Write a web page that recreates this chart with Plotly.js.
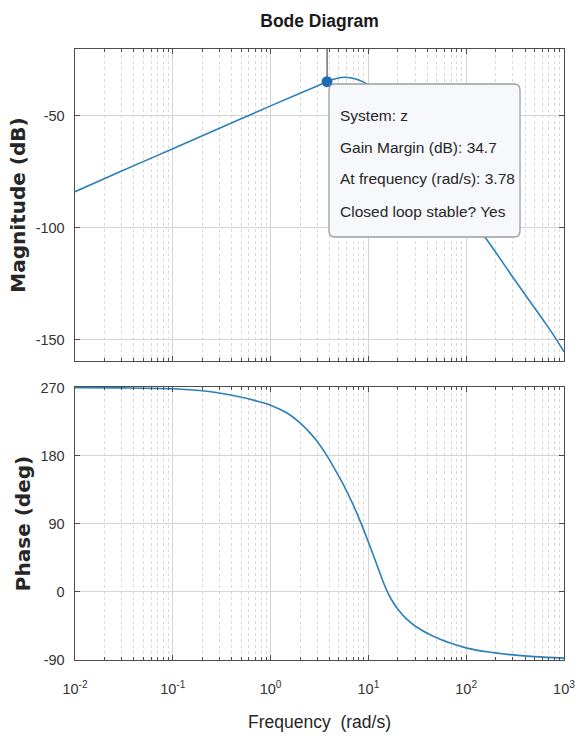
<!DOCTYPE html>
<html>
<head>
<meta charset="utf-8">
<script src="https://cdn.plot.ly/plotly-3.0.1.min.js"></script>
<style>html,body{margin:0;padding:0;background:#fff}#chart{width:588px;height:744px}</style>
</head>
<body>
<div id="chart"></div>
<script>
// ---- data ----
const freqMag = [0.01, 0.03, 0.1, 0.3, 1, 2, 3, 3.78, 4.5, 5.6, 6.5, 8, 9.4, 12, 15, 20, 30, 50, 100, 171, 300, 610, 800, 1000];
const magDb   = [-83.8, -74.6, -64.6, -55.5, -45.5, -39.9, -36.6, -34.7, -33.5, -32.7, -32.9, -33.9, -35.5, -40, -46, -53, -63, -76, -93, -106.6, -122, -141, -148.5, -155.3];

const freqPhase = [0.01, 0.03, 0.1, 0.2, 0.4, 0.7, 1, 1.5, 2, 2.5, 3, 3.78, 4.5, 5.5, 7, 8.4, 10, 12.2, 14.5, 17, 20.3, 24.2, 30, 45, 70, 104, 170, 264, 500, 1000];
const phaseDeg  = [270, 269.8, 268.6, 266, 260, 253, 247, 236, 223.5, 211, 199, 180, 163, 143, 115, 91, 66, 36, 10, -9, -24, -35, -45, -58, -68, -74.6, -79.5, -82.5, -85.5, -87.5];

const freqTicks = [0.01, 0.1, 1, 10, 100, 1000];
const freqTickText = ['10<sup>-2</sup>', '10<sup>-1</sup>', '10<sup>0</sup>', '10<sup>1</sup>', '10<sup>2</sup>', '10<sup>3</sup>'];
const magTicks = [-150, -100, -50];
const magTickText = ['-150', '-100', '-50'];
const phaseTicks = [-90, 0, 90, 180, 270];
const phaseTickText = ['-90', '0', '90', '180', '270'];

const systemName = 'z';
const gmFreq = 3.78;   // rad/s
const gmDb = 34.7;     // dB
const stableText = 'Yes';

// ---- styling ----
const sans = "'Liberation Sans', Arial, sans-serif";
const wideBold = "'DejaVu Sans', 'Liberation Sans', sans-serif";
const lineBlue = '#2b80b9';
const axisCol = '#4d4d4d';

const L = 75, R = 24, T = 49, B = 84, W = 588, H = 744;
const pw = W - L - R, ph = H - T - B;
const X = px => (px - L) / pw;
const Y = py => (H - B - py) / ph;

function roundRect(x0, y0, x1, y1, r) {
  return `M ${X(x0 + r)} ${Y(y0)} L ${X(x1 - r)} ${Y(y0)} Q ${X(x1)} ${Y(y0)} ${X(x1)} ${Y(y0 + r)} ` +
         `L ${X(x1)} ${Y(y1 - r)} Q ${X(x1)} ${Y(y1)} ${X(x1 - r)} ${Y(y1)} ` +
         `L ${X(x0 + r)} ${Y(y1)} Q ${X(x0)} ${Y(y1)} ${X(x0)} ${Y(y1 - r)} ` +
         `L ${X(x0)} ${Y(y0 + r)} Q ${X(x0)} ${Y(y0)} ${X(x0 + r)} ${Y(y0)} Z`;
}

const baseX = {
  type: 'log', range: [-2, 3],
  tickmode: 'array', tickvals: freqTicks, ticktext: freqTickText,
  ticks: 'inside', ticklen: 5, tickwidth: 1, tickcolor: axisCol,
  showline: true, linecolor: axisCol, linewidth: 1.4, mirror: 'ticks',
  showgrid: true, gridcolor: '#d4d4d4', gridwidth: 1, zeroline: false,
  minor: { dtick: 'D1', ticks: 'inside', ticklen: 3, tickcolor: axisCol,
           showgrid: true, gridcolor: '#d9d9d9', griddash: 'dot', gridwidth: 1 },
  tickfont: { family: sans, size: 14.5, color: '#333333' }
};

const layout = {
  width: W, height: H,
  margin: { l: L, r: R, t: T, b: B },
  paper_bgcolor: '#ffffff', plot_bgcolor: '#ffffff',
  showlegend: false,
  title: { text: 'Bode Diagram', x: 0.5435, xanchor: 'center', xref: 'container',
           y: 1 - 21 / H, yanchor: 'middle', yref: 'container',
           font: { family: sans, size: 17.5, weight: 'bold', color: '#1a1a1a' } },
  xaxis: Object.assign({}, baseX, {
    domain: [0, 1], anchor: 'y', ticklabelstandoff: 15,
    title: { text: 'Frequency\u00a0\u00a0(rad/s)', standoff: 20,
             font: { family: sans, size: 17.5, color: '#262626' } }
  }),
  xaxis2: Object.assign({}, baseX, {
    domain: [0, 1], anchor: 'y2', matches: 'x', showticklabels: false
  }),
  yaxis: {
    domain: [0, 273 / ph], range: [-90, 271],
    tickmode: 'array', tickvals: phaseTicks, ticktext: phaseTickText,
    ticks: 'inside', ticklen: 5, tickcolor: axisCol,
    showline: true, linecolor: axisCol, linewidth: 1.4, mirror: 'ticks',
    showgrid: true, gridcolor: '#d4d4d4', zeroline: false,
    tickfont: { family: sans, size: 14.5, color: '#333333' }, ticklabelstandoff: 6,
    title: { text: 'Phase (deg)', standoff: 4,
             font: { family: wideBold, size: 20, weight: 'bold', color: '#262626' } }
  },
  yaxis2: {
    domain: [(H - B - 361) / ph, 1], range: [-159.4, -20.1],
    tickmode: 'array', tickvals: magTicks, ticktext: magTickText,
    ticks: 'inside', ticklen: 5, tickcolor: axisCol,
    showline: true, linecolor: axisCol, linewidth: 1.4, mirror: 'ticks',
    showgrid: true, gridcolor: '#d4d4d4', zeroline: false,
    tickfont: { family: sans, size: 14.5, color: '#333333' }, ticklabelstandoff: 6,
    title: { text: 'Magnitude (dB)', standoff: 4,
             font: { family: wideBold, size: 20, weight: 'bold', color: '#262626' } }
  },
  shapes: [{
    type: 'path', xref: 'paper', yref: 'paper', layer: 'above',
    path: roundRect(329, 84, 520, 237, 6),
    fillcolor: '#f7f8fb', line: { color: '#9d9d9d', width: 1.3 }
  }],
  annotations: [
    ['System: ' + systemName, 115],
    ['Gain Margin (dB): ' + gmDb.toFixed(1), 147],
    ['At frequency (rad/s): ' + gmFreq.toFixed(2), 179],
    ['Closed loop stable? ' + stableText, 211.5]
  ].map(([t, py]) => ({
    text: t, xref: 'paper', yref: 'paper', x: X(338), y: Y(py),
    xanchor: 'left', yanchor: 'middle', showarrow: false, align: 'left',
    font: { family: sans, size: 15.5, color: '#262626' }
  }))
};

const traces = [
  { x: freqMag, y: magDb, xaxis: 'x2', yaxis: 'y2', mode: 'lines',
    line: { color: lineBlue, width: 1.6, shape: 'spline', smoothing: 1 }, hoverinfo: 'skip' },
  { x: freqPhase, y: phaseDeg, xaxis: 'x', yaxis: 'y', mode: 'lines',
    line: { color: lineBlue, width: 1.6, shape: 'spline', smoothing: 1 }, hoverinfo: 'skip' },
  { x: [gmFreq, gmFreq], y: [-gmDb, 0], xaxis: 'x2', yaxis: 'y2', mode: 'lines',
    line: { color: '#2a2a2a', width: 1 }, hoverinfo: 'skip' },
  { x: [gmFreq], y: [-gmDb], xaxis: 'x2', yaxis: 'y2', mode: 'markers',
    marker: { color: '#1f6db0', size: 11 }, hoverinfo: 'skip', cliponaxis: false }
];

Plotly.newPlot('chart', traces, layout, { staticPlot: true, displayModeBar: false });
</script>
</body>
</html>
